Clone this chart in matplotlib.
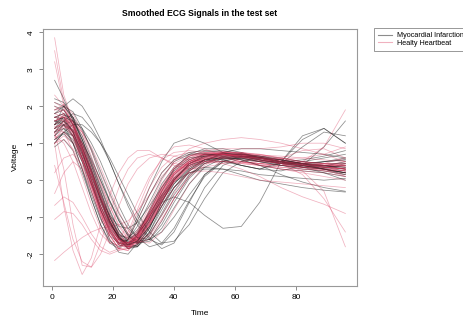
import matplotlib
matplotlib.use("Agg")
import matplotlib.pyplot as plt

plt.rcParams['font.family'] = ['Liberation Sans', 'DejaVu Sans']

time_points = [1, 4, 7, 10, 13, 16, 19, 22, 25, 28, 32, 36, 40, 45, 50, 56, 62, 68, 75, 82, 89, 96]

# Myocardial Infarction signals (black)
mi_curves = [
    [1.5, 1.7, 1.45, 0.9, 0.3, -0.35, -1.0, -1.5, -1.75, -1.65, -1.1, -0.4, 0.15, 0.5, 0.68, 0.72, 0.68, 0.58, 0.48, 0.42, 0.38, 0.3],
    [1.8, 1.9, 1.5, 0.8, 0.0, -0.8, -1.4, -1.75, -1.8, -1.5, -0.8, -0.1, 0.35, 0.65, 0.78, 0.8, 0.72, 0.6, 0.5, 0.4, 0.3, 0.2],
    [1.5, 2.0, 2.2, 2.0, 1.6, 1.1, 0.5, -0.1, -0.7, -1.2, -1.6, -1.75, -1.4, -0.6, 0.15, 0.55, 0.65, 0.6, 0.45, 0.35, 0.3, 0.45],
    [1.2, 1.5, 1.6, 1.4, 1.0, 0.5, -0.1, -0.7, -1.2, -1.55, -1.8, -1.7, -1.3, -0.55, 0.1, 0.5, 0.65, 0.62, 0.55, 0.45, 0.4, 0.35],
    [1.6, 1.7, 1.3, 0.6, -0.1, -0.8, -1.3, -1.6, -1.65, -1.4, -0.95, -0.6, -0.45, -0.6, -0.95, -1.3, -1.25, -0.6, 0.5, 1.2, 1.4, 1.0],
    [1.3, 1.4, 1.0, 0.3, -0.5, -1.2, -1.7, -1.85, -1.6, -1.0, -0.2, 0.5, 1.0, 1.15, 1.0, 0.75, 0.55, 0.4, 0.3, 0.25, 0.2, 0.1],
    [2.0, 1.9, 1.5, 0.9, 0.2, -0.5, -1.1, -1.55, -1.7, -1.55, -1.1, -0.5, 0.0, 0.4, 0.55, 0.5, 0.4, 0.3, 0.25, 0.4, 0.9, 1.6],
    [1.7, 1.8, 1.5, 1.0, 0.4, -0.3, -1.0, -1.5, -1.8, -1.75, -1.3, -0.6, 0.0, 0.45, 0.6, 0.55, 0.4, 0.3, 0.5, 1.1, 1.4, 1.0],
    [1.1, 1.3, 1.2, 0.8, 0.2, -0.5, -1.1, -1.55, -1.8, -1.8, -1.4, -0.7, -0.1, 0.35, 0.55, 0.6, 0.55, 0.4, 0.15, -0.05, -0.2, -0.3],
    [2.7, 2.2, 1.6, 0.9, 0.2, -0.5, -1.1, -1.55, -1.85, -1.8, -1.4, -0.8, -0.2, 0.3, 0.55, 0.7, 0.72, 0.65, 0.55, 0.45, 0.35, 0.25],
    [0.9, 1.1, 0.8, 0.2, -0.5, -1.2, -1.65, -1.8, -1.6, -1.1, -0.4, 0.2, 0.55, 0.75, 0.8, 0.75, 0.65, 0.55, 0.45, 0.4, 0.5, 0.6],
    [1.3, 1.6, 1.8, 1.7, 1.4, 1.0, 0.5, -0.1, -0.6, -1.1, -1.55, -1.85, -1.7, -1.0, -0.2, 0.4, 0.6, 0.6, 0.5, 0.4, 0.3, 0.2],
    [1.9, 2.0, 1.7, 1.1, 0.4, -0.3, -0.95, -1.45, -1.7, -1.6, -1.15, -0.5, 0.05, 0.45, 0.62, 0.7, 0.7, 0.65, 0.6, 0.5, 0.45, 0.45],
    [1.2, 1.4, 1.2, 0.7, 0.1, -0.5, -0.95, -1.25, -1.3, -1.15, -0.7, -0.2, 0.25, 0.55, 0.7, 0.7, 0.6, 0.5, 0.4, 0.35, 0.3, 0.2],
    [1.6, 1.6, 1.2, 0.5, -0.3, -1.0, -1.6, -1.95, -2.0, -1.7, -1.0, -0.3, 0.3, 0.7, 0.85, 0.85, 0.75, 0.6, 0.5, 0.45, 0.5, 0.55],
    [1.4, 1.7, 1.6, 1.2, 0.6, 0.0, -0.6, -1.1, -1.5, -1.7, -1.6, -1.1, -0.5, 0.1, 0.5, 0.75, 0.85, 0.85, 0.8, 0.75, 0.7, 0.6],
    [1.5, 1.6, 1.3, 0.7, 0.0, -0.7, -1.25, -1.6, -1.7, -1.5, -1.0, -0.45, -0.05, 0.2, 0.3, 0.3, 0.25, 0.15, 0.1, 0.05, 0.0, 0.05],
    [1.0, 1.3, 1.1, 0.6, 0.0, -0.6, -1.15, -1.55, -1.75, -1.65, -1.25, -0.7, -0.2, 0.2, 0.35, 0.3, 0.15, 0.0, -0.1, -0.2, -0.27, -0.32],
    [1.4, 1.5, 1.2, 0.6, -0.1, -0.8, -1.35, -1.7, -1.75, -1.45, -0.85, -0.2, 0.3, 0.6, 0.65, 0.55, 0.4, 0.3, 0.45, 0.9, 1.3, 1.2],
    [1.7, 1.8, 1.6, 1.1, 0.5, -0.15, -0.8, -1.35, -1.7, -1.8, -1.5, -0.9, -0.3, 0.25, 0.55, 0.68, 0.65, 0.55, 0.45, 0.5, 0.6, 0.7],
    [1.0, 1.3, 1.5, 1.5, 1.3, 1.0, 0.6, 0.1, -0.4, -0.9, -1.4, -1.7, -1.65, -1.2, -0.5, 0.2, 0.5, 0.6, 0.55, 0.45, 0.4, 0.35],
    [2.2, 2.1, 1.7, 1.0, 0.3, -0.45, -1.1, -1.6, -1.85, -1.75, -1.3, -0.6, 0.0, 0.45, 0.65, 0.72, 0.7, 0.62, 0.5, 0.35, 0.2, 0.0],
    [1.3, 1.5, 1.35, 1.0, 0.55, 0.0, -0.55, -1.05, -1.45, -1.65, -1.6, -1.2, -0.6, 0.05, 0.45, 0.65, 0.7, 0.65, 0.55, 0.45, 0.4, 0.3],
    [1.6, 1.5, 1.0, 0.3, -0.4, -1.05, -1.5, -1.7, -1.6, -1.25, -0.6, 0.05, 0.5, 0.7, 0.72, 0.65, 0.55, 0.5, 0.45, 0.45, 0.5, 0.55],
    [1.8, 2.0, 1.85, 1.4, 0.8, 0.1, -0.55, -1.1, -1.5, -1.7, -1.65, -1.3, -0.75, -0.1, 0.35, 0.6, 0.65, 0.6, 0.5, 0.4, 0.3, 0.2],
    [1.4, 1.6, 1.35, 0.85, 0.25, -0.4, -1.0, -1.45, -1.6, -1.45, -1.05, -0.55, -0.1, 0.3, 0.55, 0.65, 0.62, 0.55, 0.45, 0.38, 0.35, 0.4],
    [1.1, 1.25, 1.0, 0.5, -0.1, -0.7, -1.2, -1.5, -1.55, -1.35, -0.9, -0.4, 0.05, 0.4, 0.55, 0.6, 0.58, 0.52, 0.5, 0.55, 0.65, 0.8],
    [2.1, 2.0, 1.65, 1.1, 0.45, -0.2, -0.85, -1.35, -1.65, -1.7, -1.45, -0.95, -0.4, 0.15, 0.45, 0.6, 0.6, 0.5, 0.4, 0.3, 0.25, 0.15],
    [1.5, 1.75, 1.7, 1.35, 0.85, 0.25, -0.35, -0.9, -1.3, -1.55, -1.6, -1.4, -1.0, -0.4, 0.15, 0.5, 0.62, 0.6, 0.5, 0.42, 0.38, 0.5],
    [1.7, 1.65, 1.3, 0.75, 0.1, -0.55, -1.15, -1.55, -1.75, -1.65, -1.25, -0.7, -0.2, 0.25, 0.5, 0.62, 0.65, 0.62, 0.55, 0.45, 0.3, 0.15],
]

# Healthy heartbeat signals (red)
healthy_curves = [
    [3.85, 2.3, 1.6, 0.9, 0.2, -0.5, -1.1, -1.55, -1.75, -1.6, -1.1, -0.45, 0.1, 0.5, 0.7, 0.75, 0.7, 0.6, 0.5, 0.45, 0.4, 0.3],
    [3.5, 2.1, 1.5, 0.8, 0.0, -0.8, -1.4, -1.75, -1.8, -1.5, -0.9, -0.25, 0.25, 0.6, 0.75, 0.78, 0.72, 0.6, 0.5, 0.4, 0.35, 0.3],
    [3.2, 2.0, 1.7, 1.2, 0.5, -0.2, -0.9, -1.45, -1.75, -1.7, -1.25, -0.6, 0.0, 0.45, 0.65, 0.7, 0.65, 0.55, 0.45, 0.4, 0.4, 0.45],
    [1.0, -0.7, -1.9, -2.55, -2.1, -1.2, -0.4, 0.2, 0.6, 0.8, 0.8, 0.6, 0.4, 0.3, 0.35, 0.45, 0.5, 0.45, 0.4, 0.35, 0.3, 0.2],
    [1.3, 0.3, -1.2, -2.3, -2.35, -1.7, -0.9, -0.2, 0.3, 0.6, 0.7, 0.6, 0.45, 0.4, 0.45, 0.5, 0.5, 0.45, 0.4, 0.35, 0.35, 0.3],
    [0.4, -0.6, -1.6, -2.2, -2.35, -2.0, -1.4, -0.7, -0.1, 0.3, 0.6, 0.7, 0.65, 0.55, 0.5, 0.5, 0.45, 0.4, 0.35, 0.3, 0.25, 0.2],
    [-2.17, -1.95, -1.75, -1.55, -1.4, -1.3, -1.25, -1.2, -1.1, -0.85, -0.4, 0.1, 0.45, 0.65, 0.7, 0.7, 0.65, 0.55, 0.45, 0.4, 0.35, 0.3],
    [-1.06, -0.85, -0.9, -1.2, -1.6, -1.9, -2.0, -1.9, -1.6, -1.1, -0.4, 0.2, 0.55, 0.7, 0.7, 0.6, 0.5, 0.4, 0.3, 0.25, 0.2, 0.1],
    [-0.68, -0.45, -0.6, -1.0, -1.45, -1.8, -1.95, -1.85, -1.5, -0.9, -0.2, 0.35, 0.65, 0.75, 0.7, 0.6, 0.5, 0.45, 0.4, 0.35, 0.3, 0.25],
    [-0.36, 0.2, 0.5, 0.3, -0.3, -1.0, -1.6, -1.9, -1.85, -1.5, -0.9, -0.3, 0.2, 0.55, 0.7, 0.72, 0.68, 0.6, 0.5, 0.45, 0.4, 0.4],
    [0.2, 0.6, 0.7, 0.4, -0.2, -0.9, -1.5, -1.85, -1.9, -1.6, -1.0, -0.35, 0.15, 0.5, 0.65, 0.7, 0.68, 0.6, 0.5, 0.45, 0.4, 0.35],
    [1.5, 1.8, 1.5, 0.9, 0.2, -0.5, -1.15, -1.6, -1.8, -1.65, -1.1, -0.45, 0.1, 0.5, 0.7, 0.75, 0.72, 0.62, 0.5, 0.42, 0.38, 0.35],
    [2.3, 2.0, 1.5, 0.8, 0.05, -0.7, -1.3, -1.7, -1.8, -1.55, -0.95, -0.3, 0.2, 0.55, 0.72, 0.78, 0.75, 0.65, 0.52, 0.45, 0.4, 0.5],
    [1.2, 1.5, 1.3, 0.8, 0.15, -0.55, -1.2, -1.65, -1.85, -1.7, -1.2, -0.55, 0.0, 0.45, 0.65, 0.75, 0.75, 0.7, 0.6, 0.5, 0.45, 0.6],
    [1.4, 1.3, 0.8, 0.1, -0.65, -1.3, -1.7, -1.75, -1.4, -0.8, 0.0, 0.6, 0.9, 0.95, 0.85, 0.65, 0.5, 0.45, 0.4, 0.35, 0.3, 0.25],
    [1.6, 1.7, 1.4, 0.8, 0.1, -0.6, -1.2, -1.6, -1.75, -1.55, -1.0, -0.35, 0.15, 0.5, 0.65, 0.7, 0.65, 0.55, 0.45, 0.5, 0.9, 1.9],
    [1.8, 1.9, 1.6, 1.0, 0.3, -0.4, -1.05, -1.55, -1.8, -1.7, -1.2, -0.55, 0.0, 0.45, 0.65, 0.72, 0.7, 0.6, 0.45, 0.25, -0.3, -1.8],
    [1.3, 1.5, 1.2, 0.6, -0.1, -0.8, -1.35, -1.7, -1.75, -1.45, -0.85, -0.25, 0.2, 0.45, 0.5, 0.45, 0.3, 0.1, -0.2, -0.45, -0.65, -0.9],
    [1.7, 1.7, 1.3, 0.7, 0.0, -0.7, -1.3, -1.7, -1.8, -1.55, -1.0, -0.4, 0.15, 0.5, 0.68, 0.72, 0.68, 0.6, 0.45, 0.15, -0.5, -1.4],
    [1.1, 1.4, 1.5, 1.3, 0.9, 0.35, -0.25, -0.85, -1.35, -1.65, -1.7, -1.4, -0.8, -0.1, 0.4, 0.65, 0.72, 0.7, 0.6, 0.5, 0.45, 0.4],
    [1.9, 1.9, 1.55, 0.95, 0.25, -0.45, -1.1, -1.6, -1.85, -1.75, -1.25, -0.6, -0.05, 0.4, 0.62, 0.7, 0.7, 0.62, 0.5, 0.4, 0.3, 0.1],
    [1.4, 1.6, 1.3, 0.7, 0.0, -0.7, -1.3, -1.7, -1.75, -1.45, -0.85, -0.2, 0.3, 0.65, 0.8, 0.85, 0.85, 0.85, 0.9, 1.0, 1.0, 0.85],
    [1.0, 1.2, 1.0, 0.5, -0.15, -0.85, -1.4, -1.75, -1.8, -1.5, -0.95, -0.4, 0.0, 0.2, 0.25, 0.2, 0.1, 0.0, -0.05, -0.1, -0.15, -0.2],
    [1.6, 1.7, 1.45, 0.9, 0.25, -0.45, -1.1, -1.55, -1.7, -1.5, -0.95, -0.3, 0.2, 0.55, 0.7, 0.7, 0.65, 0.55, 0.45, 0.38, 0.32, 0.25],
    [1.2, 1.0, 0.5, -0.2, -0.9, -1.45, -1.7, -1.6, -1.2, -0.6, 0.1, 0.55, 0.75, 0.8, 0.75, 0.7, 0.6, 0.5, 0.45, 0.4, 0.35, 0.3],
    [2.0, 1.8, 1.3, 0.6, -0.15, -0.9, -1.5, -1.85, -1.9, -1.6, -0.95, -0.3, 0.2, 0.5, 0.55, 0.5, 0.45, 0.4, 0.3, 0.2, 0.1, 0.0],
    [1.5, 1.65, 1.4, 0.85, 0.2, -0.5, -1.15, -1.6, -1.8, -1.65, -1.15, -0.5, 0.05, 0.45, 0.6, 0.6, 0.55, 0.5, 0.6, 0.8, 0.85, 0.6],
    [1.3, 1.6, 1.6, 1.3, 0.8, 0.2, -0.4, -1.0, -1.45, -1.7, -1.6, -1.1, -0.5, 0.15, 0.55, 0.7, 0.7, 0.62, 0.52, 0.45, 0.4, 0.4],
    [1.7, 1.8, 1.4, 0.75, 0.0, -0.75, -1.35, -1.7, -1.7, -1.35, -0.7, 0.0, 0.5, 0.85, 1.0, 1.1, 1.15, 1.1, 1.0, 0.85, 0.7, 0.5],
    [1.4, 1.55, 1.3, 0.8, 0.2, -0.45, -1.05, -1.5, -1.7, -1.6, -1.2, -0.6, -0.05, 0.4, 0.6, 0.68, 0.66, 0.6, 0.5, 0.42, 0.36, 0.3],
    [1.8, 1.7, 1.25, 0.6, -0.1, -0.8, -1.35, -1.65, -1.7, -1.4, -0.8, -0.15, 0.35, 0.65, 0.75, 0.72, 0.62, 0.52, 0.45, 0.42, 0.4, 0.38],
    [1.25, 1.45, 1.35, 1.0, 0.5, -0.1, -0.7, -1.2, -1.55, -1.65, -1.45, -0.95, -0.35, 0.25, 0.6, 0.75, 0.75, 0.68, 0.58, 0.5, 0.45, 0.42],
    [2.1, 1.95, 1.5, 0.85, 0.1, -0.6, -1.2, -1.6, -1.75, -1.6, -1.15, -0.55, -0.05, 0.35, 0.55, 0.65, 0.68, 0.68, 0.65, 0.6, 0.55, 0.5],
    [1.0, 1.1, 0.85, 0.35, -0.3, -0.95, -1.45, -1.7, -1.7, -1.45, -0.95, -0.4, 0.05, 0.4, 0.58, 0.65, 0.62, 0.55, 0.45, 0.35, 0.25, 0.15],
    [1.6, 1.75, 1.5, 1.0, 0.35, -0.35, -0.95, -1.4, -1.6, -1.55, -1.2, -0.7, -0.2, 0.25, 0.5, 0.6, 0.62, 0.6, 0.58, 0.6, 0.7, 0.9],
    [1.45, 1.5, 1.15, 0.55, -0.15, -0.85, -1.4, -1.75, -1.85, -1.6, -1.05, -0.45, 0.05, 0.45, 0.62, 0.68, 0.65, 0.58, 0.48, 0.4, 0.35, 0.3],
    [1.9, 2.05, 1.8, 1.3, 0.65, -0.05, -0.7, -1.25, -1.6, -1.7, -1.5, -1.05, -0.5, 0.1, 0.45, 0.62, 0.65, 0.6, 0.5, 0.45, 0.42, 0.4],
    [1.15, 1.3, 1.05, 0.55, -0.05, -0.7, -1.25, -1.6, -1.7, -1.5, -1.05, -0.5, 0.0, 0.35, 0.5, 0.52, 0.48, 0.42, 0.35, 0.3, 0.28, 0.25],
    [1.7, 1.6, 1.2, 0.55, -0.2, -0.9, -1.5, -1.85, -1.85, -1.5, -0.85, -0.2, 0.3, 0.6, 0.72, 0.75, 0.72, 0.65, 0.55, 0.48, 0.45, 0.45],
]

x_ticks = [0, 20, 40, 60, 80]
y_ticks = [-2, -1, 0, 1, 2, 3, 4]

mi_color = (0.1, 0.1, 0.1, 0.5)
healthy_color = (0.85, 0.2, 0.35, 0.38)

fig = plt.figure(figsize=(4.63, 3.2), dpi=100)
ax = fig.add_axes([43 / 463, 1 - 286 / 320, 314 / 463, 257.5 / 320])

# interleave the two classes like matplot does
n = max(len(mi_curves), len(healthy_curves))
for i in range(n):
    if i < len(healthy_curves):
        ax.plot(time_points, healthy_curves[i], color=healthy_color, lw=0.55)
    if i < len(mi_curves):
        ax.plot(time_points, mi_curves[i], color=mi_color, lw=0.55)

ax.set_xlim(-2.8, 99.8)
ax.set_ylim(-2.86, 4.1)
ax.set_xticks(x_ticks)
ax.set_yticks(y_ticks)
ax.set_yticklabels([str(v) for v in y_ticks], rotation=90, va='center')
ax.tick_params(labelsize=6, length=3, width=0.6, color='#777777', pad=3)
for s in ax.spines.values():
    s.set_color('#999999')
    s.set_linewidth(0.8)

ax.set_title("Smoothed ECG Signals in the test set", fontsize=6.2, fontweight='bold', pad=9)
ax.set_xlabel("Time", fontsize=6, labelpad=6)
ax.set_ylabel("Voltage", fontsize=6, labelpad=6)

handles = [plt.Line2D([], [], color=mi_color, lw=0.8),
           plt.Line2D([], [], color=healthy_color, lw=0.8)]
leg = ax.legend(handles, ["Myocardial Infarction", "Healty Heartbeat"],
                loc='upper left', bbox_to_anchor=(1.055, 1.0), fontsize=5.2,
                fancybox=False, framealpha=1, edgecolor='#888888',
                handlelength=2.0, handletextpad=0.6, borderpad=0.5,
                labelspacing=0.1, borderaxespad=0)
leg.get_frame().set_linewidth(0.6)

fig.savefig("out.png", dpi=100)
